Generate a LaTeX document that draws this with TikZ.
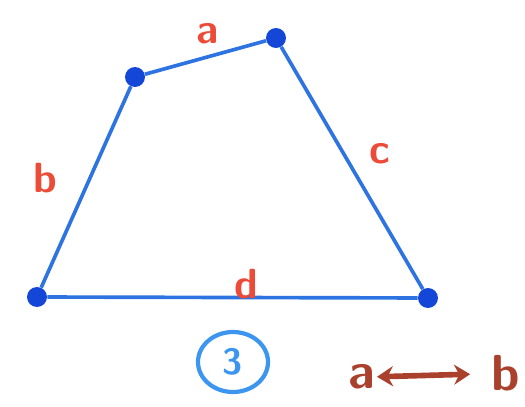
\documentclass[tikz,border=0pt]{standalone}
\usepackage{xcolor}
\usepackage{tikz}
\usetikzlibrary{shapes.geometric, arrows.meta, positioning}
\definecolor{penblue}{RGB}{45, 115, 225}
\definecolor{dotblue}{RGB}{20, 70, 215}
\definecolor{lightblue}{RGB}{60, 150, 240}
\definecolor{penred}{RGB}{235, 75, 55}
\definecolor{penbrown}{RGB}{170, 65, 45}

\begin{document}
\begin{tikzpicture}[
    vertex/.style={circle, fill=dotblue, inner sep=0pt, minimum size=0.5cm},
    side/.style={penblue, line width=2.6pt},
    label/.style={text=penred, font=\sffamily\bfseries\fontsize{30}{30}\selectfont},
    note/.style={text=penbrown, font=\sffamily\bfseries\fontsize{36}{36}\selectfont},
    arrow/.style={{Stealth[length=4mm,width=5mm]}-{Stealth[length=4mm,width=5mm]}, penbrown, line width=4pt}
]
\useasboundingbox (0,0) rectangle (13.125,10.15);

% Corners of the quadrilateral
\node[vertex] (tl) at (3.375,8.225) {};
\node[vertex] (tr) at (6.9,9.2) {};
\node[vertex] (br) at (10.7,2.7) {};
\node[vertex] (bl) at (0.925,2.725) {};

% Sides
\draw[side] (tl) -- (tr) -- (br) -- (bl) -- (tl);

% Side labels
\node[label] (la) at (5.2,9.3) {a};
\node[label] (lb) at (1.125,5.7) {b};
\node[label] (lc) at (9.5,6.3) {c};
\node[label] (ld) at (6.15,3.05) {d};

% Case number
\node[ellipse, draw=lightblue, line width=3pt, minimum width=1.75cm, minimum height=1.5cm,
      text=lightblue, font=\sffamily\bfseries\fontsize{26}{26}\selectfont] (num) at (5.825,1.1) {3};

% Swap note
\node[note, inner sep=1pt] (na) at (9.05,0.72) {a};
\node[note, inner sep=1pt] (nb) at (12.65,0.82) {b};
\draw[arrow, shorten >=0.5cm] (na) -- (nb);

\end{tikzpicture}
\end{document}
